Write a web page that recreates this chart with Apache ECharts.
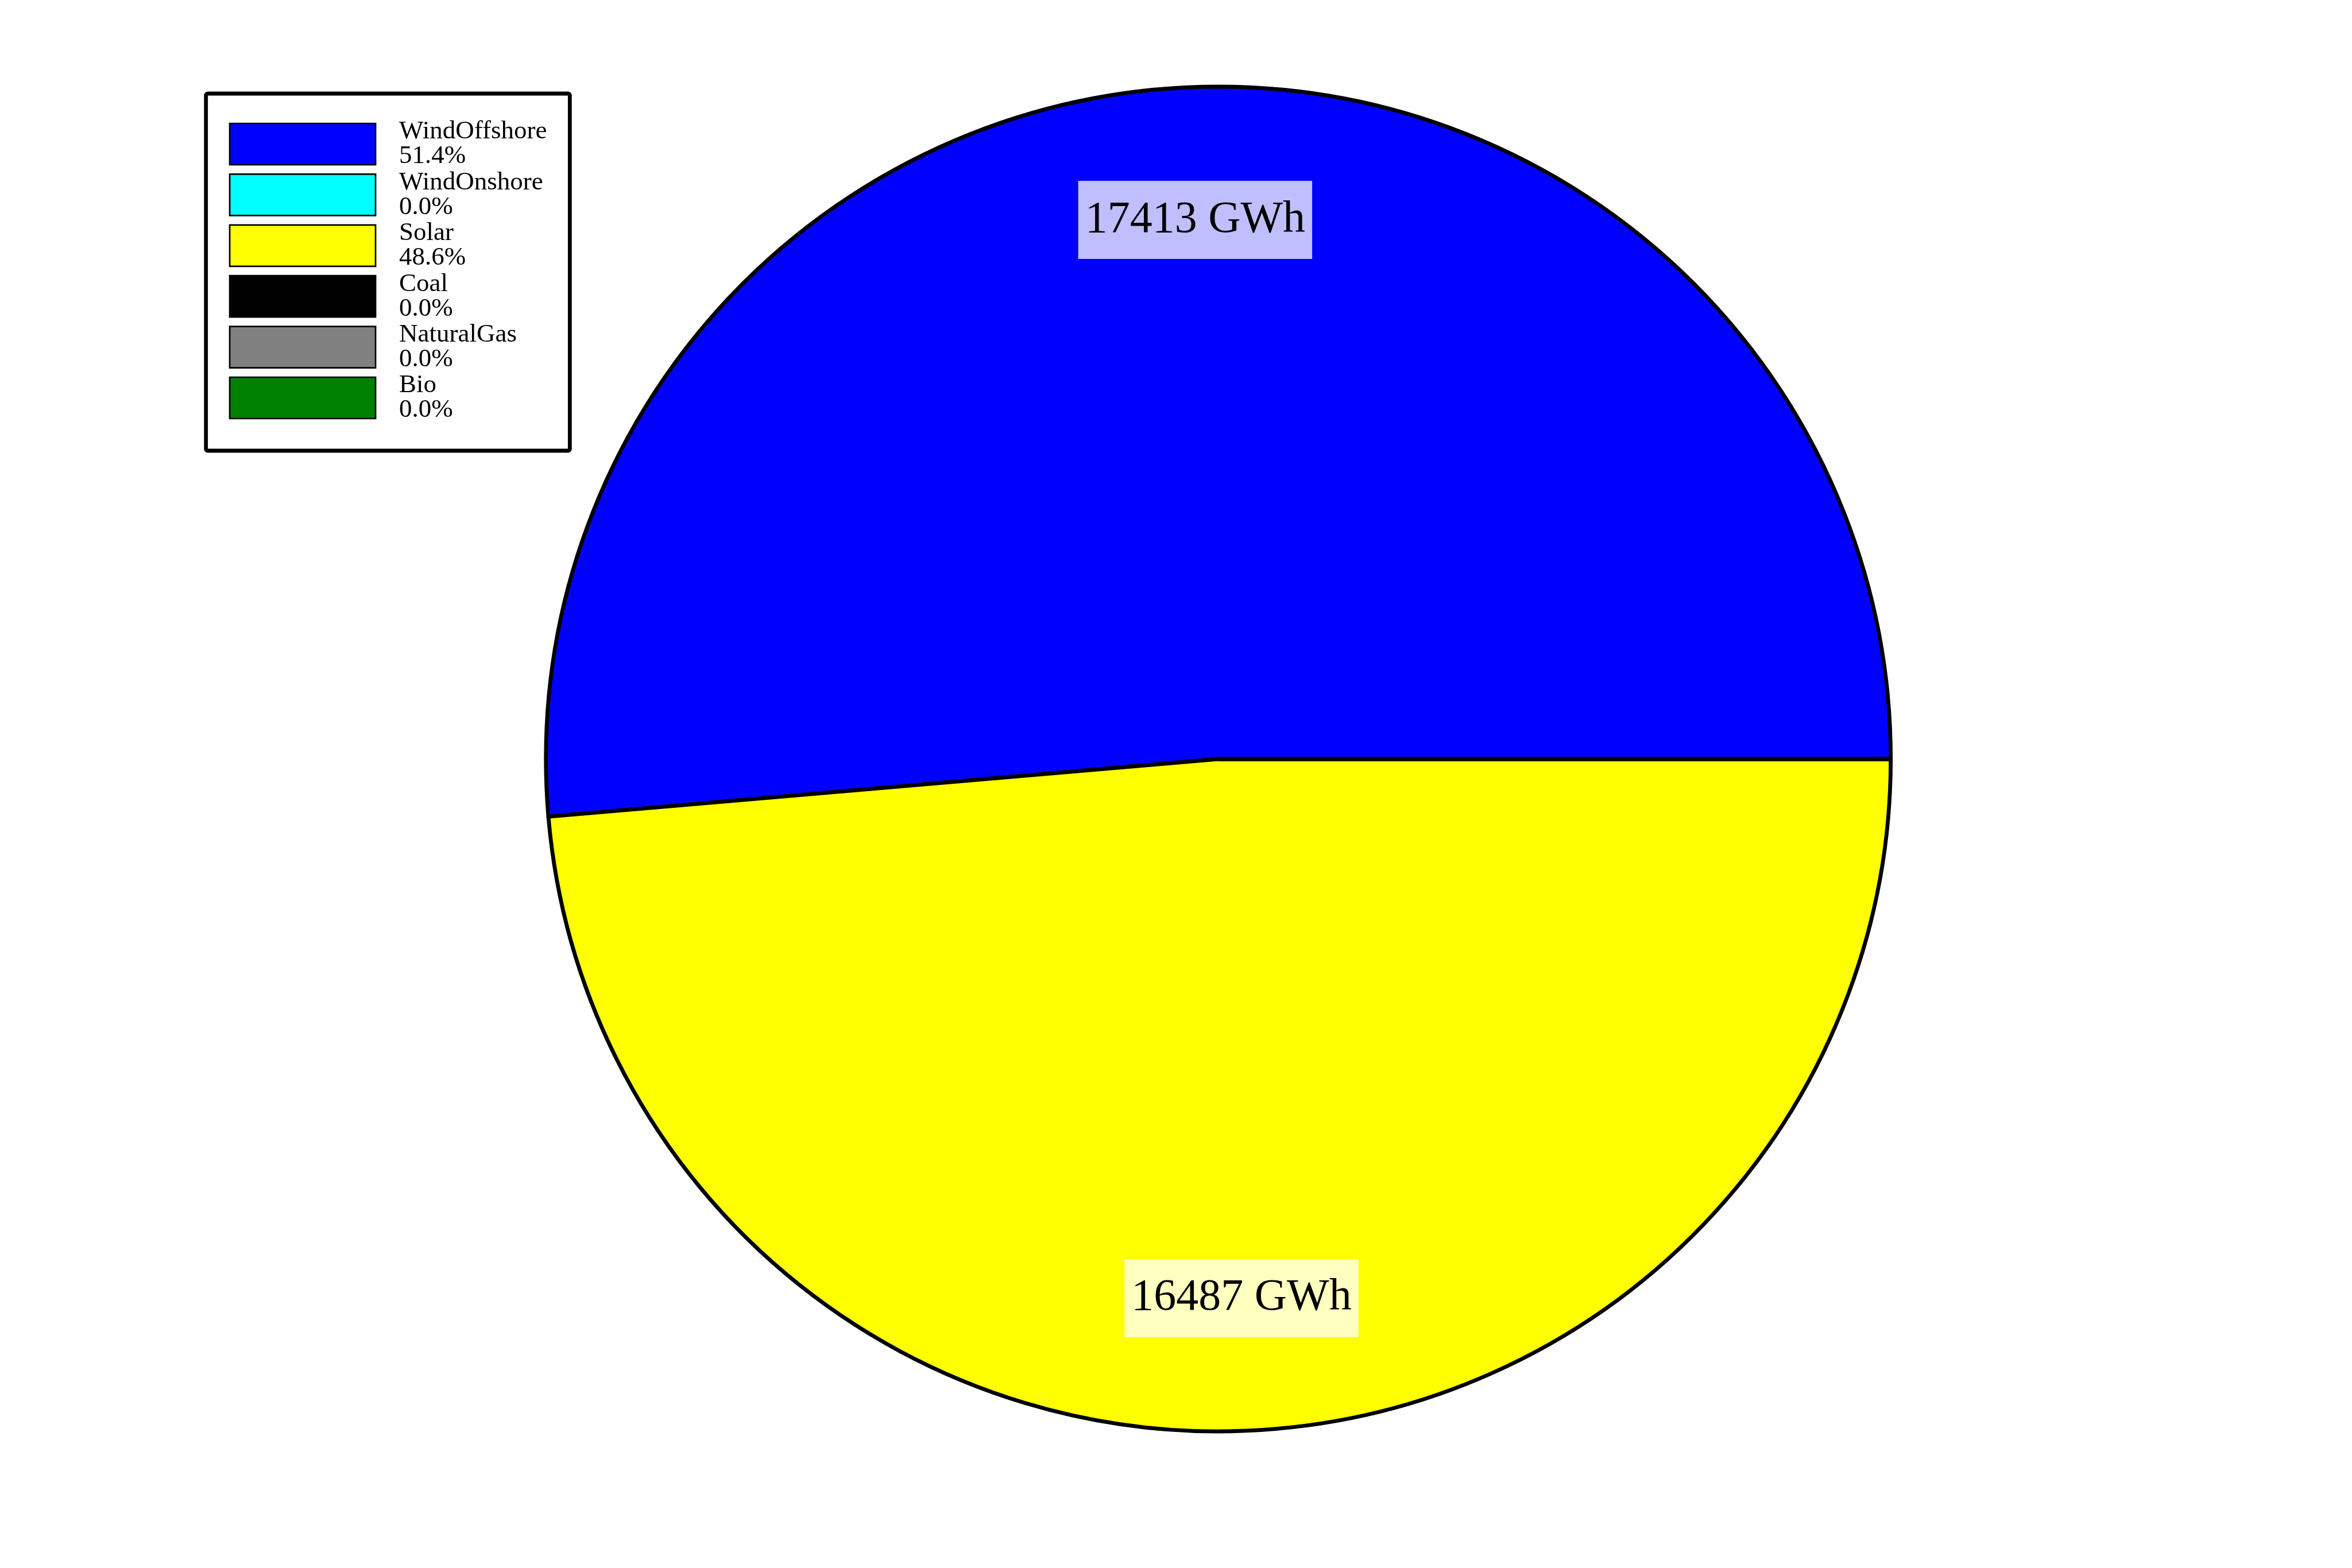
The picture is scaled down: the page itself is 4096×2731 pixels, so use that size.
<!DOCTYPE html>
<html>
<head>
<meta charset="utf-8">
<script src="https://cdn.jsdelivr.net/npm/echarts@6/dist/echarts.min.js"></script>
<style>
html,body{margin:0;padding:0;background:#fff;}
#chart{width:4096px;height:2731px;}
</style>
</head>
<body>
<div id="chart"></div>
<script>
const categories = ['WindOffshore', 'WindOnshore', 'Solar', 'Coal', 'NaturalGas', 'Bio'];
const energyGWh = [17413, 0, 16487, 0, 0, 0];
const colors = ['#0000ff', '#00ffff', '#ffff00', '#000000', '#808080', '#008000'];

const total = energyGWh.reduce((a, b) => a + b, 0);
const pctText = {};
categories.forEach((c, i) => { pctText[c] = (energyGWh[i] / total * 100).toFixed(1) + '%'; });

const FONT = '"Liberation Serif", "DejaVu Serif", serif';
const CX = 2121.7, CY = 1322, R = 1171;

const pieData = categories.map((c, i) => ({
  name: c, value: energyGWh[i], itemStyle: { color: colors[i] }
}));
const labelData = categories.map((c, i) => ({
  name: c, value: energyGWh[i], label: { show: energyGWh[i] > 0 }
}));

const chart = echarts.init(document.getElementById('chart'), null, { renderer: 'canvas' });
chart.setOption({
  animation: false,
  backgroundColor: '#ffffff',
  legend: {
    orient: 'vertical',
    left: 358.7,
    top: 163,
    padding: [44, 40, 48, 40],
    borderColor: '#000000',
    borderWidth: 6.8,
    borderRadius: 3,
    backgroundColor: '#ffffff',
    itemWidth: 254,
    itemHeight: 72,
    itemGap: 0.4,
    icon: 'rect',
    selectedMode: false,
    data: categories,
    itemStyle: { borderColor: '#000000', borderWidth: 2.7 },
    formatter: function (name) { return name + '\n' + pctText[name]; },
    textStyle: {
      fontFamily: FONT,
      fontSize: 45,
      lineHeight: 43,
      color: '#000000',
      padding: [0, 0, 0, 36]
    }
  },
  series: [
    {
      type: 'pie',
      name: 'energy',
      center: [CX, CY],
      radius: [0, R],
      startAngle: 0,
      clockwise: false,
      silent: true,
      avoidLabelOverlap: false,
      label: { show: false },
      labelLine: { show: false },
      emphasis: { disabled: true },
      itemStyle: { borderColor: '#000000', borderWidth: 6.8, borderJoin: 'miter' },
      data: pieData
    },
    {
      type: 'pie',
      name: 'labels',
      center: [CX, CY],
      radius: [R * 0.6, R],
      startAngle: 0,
      clockwise: false,
      silent: true,
      avoidLabelOverlap: false,
      legendHoverLink: false,
      minShowLabelAngle: 0,
      itemStyle: { color: 'rgba(0,0,0,0)', borderWidth: 0 },
      emphasis: { disabled: true },
      labelLine: { show: false },
      label: {
        position: 'inside',
        rotate: 0,
        formatter: '{c} GWh',
        fontFamily: FONT,
        fontSize: 78,
        lineHeight: 78,
        color: '#000000',
        backgroundColor: 'rgba(255,255,255,0.75)',
        padding: [35, 12, 23, 12]
      },
      data: labelData
    }
  ]
});
</script>
</body>
</html>
